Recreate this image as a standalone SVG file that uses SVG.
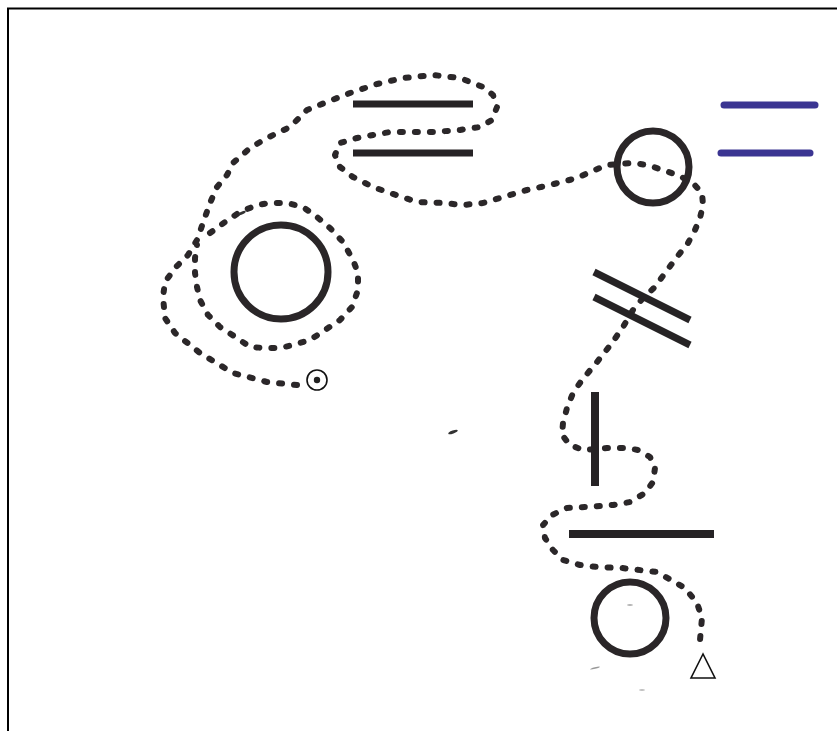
<svg xmlns="http://www.w3.org/2000/svg" width="837" height="731" viewBox="0 0 837 731">
<style>
.dots{fill:none;stroke:#2b2729;stroke-width:6;stroke-linecap:round;stroke-linejoin:round;stroke-dasharray:3 12}
.bar{stroke:#262325;stroke-width:7;stroke-linecap:butt}
.blue{stroke:#3b3592;stroke-width:7;stroke-linecap:round}
.ring{fill:none;stroke:#2a2628;stroke-width:7}
.thin{fill:none;stroke:#111;stroke-width:1.6}
</style>
<rect width="837" height="731" fill="#fff"/>
<path d="M8 731V8.5H837" fill="none" stroke="#000" stroke-width="2"/>
<g id="connectors">
<polyline class="dots" points="297,385 267,382 233,373 200,353 175,333 165,318 163,297 165,282 175,268 188,255 197,240 203,223 210,203 217,187 227,175 233,163 250,148 267,138 290,127 307,110 327,102 350,93 377,84 403,78 433,75 460,78 483,87 493,95 497,107 492,120 480,127 460,130 433,132 410,132 390,132 373,135 357,138 340,143 335,155 340,167 353,177 373,187 390,193 417,202 443,203 463,205 483,203 503,197 527,190 550,185 577,178 590,172 607,165 633,163 647,165 663,170 677,175 692,182 702,193 703,205 700,218 695,230 688,243 677,257 665,273 655,287 643,298 633,310 623,327 612,343 597,362 582,380 573,393 567,408 563,423 562,435 570,445 583,450 607,448 627,448 638,450 650,457 655,468 653,482 645,493 630,502 613,505 587,507 567,508 552,515 543,525 545,538 553,550 563,560 580,565 597,567 622,568 657,572 685,588 697,603 702,618 700,640"/>
<polyline class="dots" points="210,233 225,222 240,212 257,205 270,203 287,203 303,207 317,217 330,228 343,242 353,260 358,273 358,290 352,307 340,320 325,330 310,340 293,345 280,348 265,348 250,347 237,338 220,327 208,315 200,300 197,287 195,273 195,258 197,245"/>
</g>
<g id="big-circle"><circle class="ring" cx="281" cy="272" r="47"/></g>
<g id="small-target"><circle class="thin" cx="317" cy="380" r="10"/><circle cx="317" cy="380" r="3.2" fill="#222"/></g>
<g id="top-bars"><line class="bar" x1="353" y1="104" x2="473" y2="104"/><line class="bar" x1="353" y1="153" x2="473" y2="153"/></g>
<g id="top-circle"><circle class="ring" cx="653" cy="167" r="36"/></g>
<g id="blue-bars"><line class="blue" x1="724" y1="105" x2="815" y2="105"/><line class="blue" x1="721" y1="153" x2="810" y2="153"/></g>
<g id="diag-bars"><line class="bar" x1="594" y1="272" x2="690" y2="320"/><line class="bar" x1="594" y1="297" x2="690" y2="345"/></g>
<g id="vertical-bar"><line class="bar" x1="595" y1="392" x2="595" y2="486" style="stroke-width:8"/></g>
<g id="horizontal-bar"><line class="bar" x1="569" y1="534" x2="714" y2="534" style="stroke-width:8"/></g>
<g id="bottom-circle"><circle class="ring" cx="630" cy="618" r="36"/></g>
<g id="triangle"><polygon class="thin" points="703,654 691,678 715,678"/></g>
<g id="specks" fill="#333">
<ellipse cx="453" cy="432" rx="5" ry="1.5" transform="rotate(-20 453 432)"/>
<ellipse cx="242" cy="213" rx="4" ry="1.5" transform="rotate(-25 242 213)"/>
<ellipse cx="595" cy="668" rx="5" ry="0.8" transform="rotate(-15 595 668)" fill="#999"/>
<ellipse cx="630" cy="605" rx="3" ry="0.7" fill="#999"/>
<ellipse cx="642" cy="690" rx="3" ry="0.8" fill="#aaa"/>
</g>
</svg>
